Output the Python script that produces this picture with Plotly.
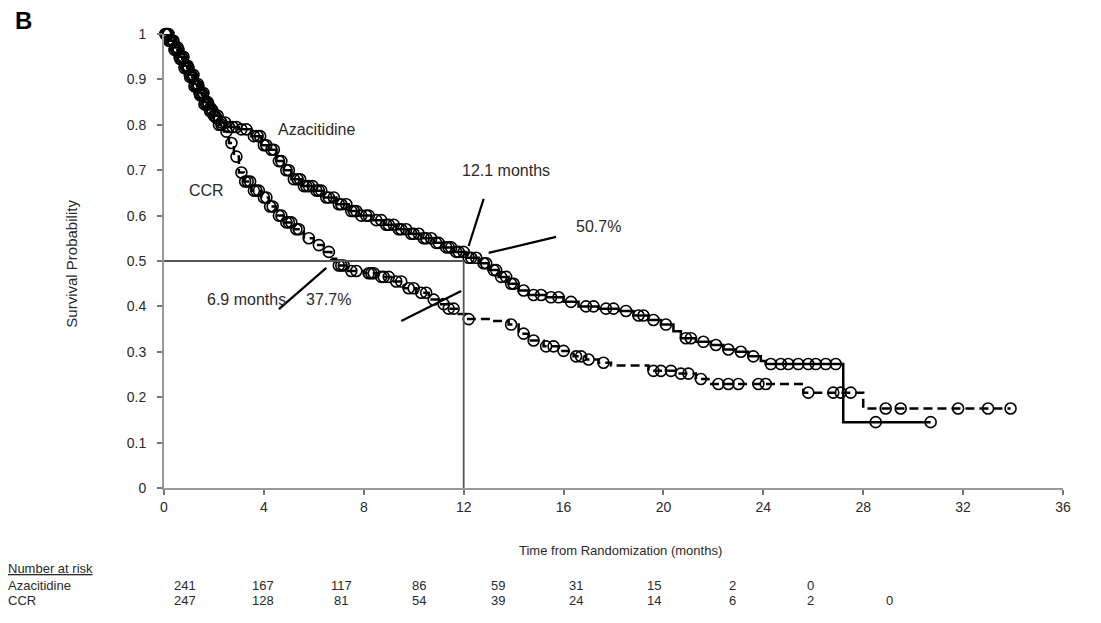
import plotly.graph_objects as go

# ---------------- data ----------------
aza_time = [0, 0.2, 0.4, 0.6, 0.8, 1.0, 1.2, 1.4, 1.6, 1.8, 2.0, 2.2, 2.5, 3.0, 3.5, 3.9,
            4.2, 4.5, 4.8, 5.1, 5.5, 6.0, 6.4, 6.9, 7.4, 7.8, 8.3, 8.8, 9.3, 9.8, 10.3,
            10.8, 11.2, 11.6, 12.1, 12.6, 13.0, 13.4, 13.8, 14.2, 14.6, 15.3, 16.0, 16.6,
            17.4, 18.2, 18.8, 19.4, 19.9, 20.4, 20.7, 21.3, 21.9, 22.4, 22.9, 23.4, 23.9,
            24.1, 27.2, 30.7]
aza_surv = [1.0, 0.985, 0.97, 0.95, 0.93, 0.91, 0.89, 0.87, 0.85, 0.835, 0.82, 0.805, 0.795,
            0.79, 0.775, 0.755, 0.745, 0.72, 0.70, 0.68, 0.665, 0.655, 0.64, 0.625, 0.61,
            0.60, 0.59, 0.58, 0.57, 0.56, 0.55, 0.54, 0.53, 0.52, 0.507, 0.495, 0.48, 0.465,
            0.45, 0.435, 0.425, 0.42, 0.41, 0.40, 0.395, 0.39, 0.38, 0.37, 0.36, 0.345, 0.33,
            0.322, 0.315, 0.305, 0.30, 0.29, 0.28, 0.273, 0.145, 0.145]

ccr_time = [0, 0.2, 0.4, 0.6, 0.8, 1.0, 1.2, 1.4, 1.6, 1.8, 2.0, 2.2, 2.4, 2.6, 2.8, 3.0,
            3.2, 3.5, 3.9, 4.2, 4.5, 4.8, 5.2, 5.6, 6.0, 6.4, 6.7, 6.9, 7.3, 8.0, 8.6, 9.1,
            9.6, 10.1, 10.6, 11.0, 11.4, 11.8, 12.1, 13.0, 13.8, 14.2, 14.6, 15.2, 15.8,
            16.4, 16.9, 17.4, 17.9, 19.4, 20.5, 21.3, 21.8, 25.6, 28.0, 33.9]
ccr_surv = [1.0, 0.985, 0.965, 0.945, 0.925, 0.905, 0.885, 0.865, 0.845, 0.83, 0.815, 0.80,
            0.785, 0.76, 0.73, 0.695, 0.675, 0.655, 0.64, 0.62, 0.60, 0.585, 0.57, 0.55,
            0.535, 0.52, 0.505, 0.49, 0.478, 0.473, 0.465, 0.455, 0.44, 0.43, 0.415, 0.405,
            0.395, 0.383, 0.372, 0.368, 0.36, 0.34, 0.325, 0.312, 0.302, 0.29, 0.283, 0.276,
            0.27, 0.258, 0.252, 0.24, 0.229, 0.21, 0.175, 0.175]

aza_censor = [0.05, 0.12, 0.2, 0.3, 0.38, 0.45, 0.55, 0.62, 0.7, 0.78, 0.85, 0.95, 1.03, 1.1,
              1.18, 1.25, 1.35, 1.42, 1.5, 1.58, 1.65, 1.75, 1.82, 1.9, 2.0, 2.05, 2.15, 2.3,
              2.45, 2.6, 2.75, 2.9, 3.1, 3.3, 3.6, 3.75, 3.85, 4.0, 4.1, 4.3, 4.4, 4.6, 4.7,
              4.9, 5.0, 5.2, 5.35, 5.45, 5.6, 5.7, 5.8, 5.95, 6.1, 6.2, 6.3, 6.5, 6.6, 6.8,
              7.0, 7.1, 7.3, 7.5, 7.6, 7.7, 7.9, 8.1, 8.2, 8.5, 8.7, 8.9, 9.0, 9.2, 9.4, 9.5,
              9.7, 9.9, 10.0, 10.2, 10.4, 10.5, 10.7, 10.9, 11.0, 11.3, 11.4, 11.5, 11.7,
              11.8, 12.0, 12.2, 12.3, 12.5, 12.8, 12.9, 13.2, 13.3, 13.5, 13.7, 13.9, 14.0,
              14.4, 14.8, 15.1, 15.5, 15.8, 16.3, 16.9, 17.2, 17.7, 18.0, 18.5, 19.0, 19.2,
              19.6, 20.1, 20.9, 21.1, 21.6, 22.1, 22.6, 23.1, 23.6, 24.3, 24.7, 25.0, 25.4,
              25.8, 26.1, 26.5, 26.9, 28.5, 30.7]
ccr_censor = [0.1, 0.18, 0.25, 0.35, 0.42, 0.5, 0.58, 0.65, 0.75, 0.82, 0.9, 0.98, 1.05,
              1.15, 1.22, 1.3, 1.38, 1.45, 1.55, 1.62, 1.7, 1.78, 1.85, 1.95, 2.1, 2.2, 2.3,
              2.5, 2.7, 2.9, 3.1, 3.25, 3.35, 3.45, 3.6, 3.7, 3.8, 4.0, 4.1, 4.25, 4.35, 4.6,
              4.7, 4.9, 5.0, 5.1, 5.3, 5.4, 5.8, 6.2, 6.6, 7.0, 7.1, 7.2, 7.5, 7.7, 8.2, 8.3,
              8.4, 8.7, 8.8, 9.0, 9.3, 9.5, 9.8, 10.0, 10.3, 10.5, 10.8, 11.2, 11.4, 11.6,
              12.2, 13.9, 14.4, 14.8, 15.3, 15.6, 16.0, 16.5, 16.7, 17.0, 17.6, 19.6, 19.9,
              20.3, 20.7, 21.0, 21.5, 22.2, 22.6, 23.0, 23.8, 24.1, 25.8, 26.8, 27.1, 27.5,
              28.9, 29.5, 31.8, 33.0, 33.9]

risk_times = [0, 4, 8, 12, 16, 20, 24, 28, 32, 36]
risk_aza = ["241", "167", "117", "86", "59", "31", "15", "2", "0", ""]
risk_ccr = ["247", "128", "81", "54", "39", "24", "14", "6", "2", "0"]

median_aza = 12.0
median_level = 0.5

x_ticks = [0, 4, 8, 12, 16, 20, 24, 28, 32, 36]
y_ticks = [0, 0.1, 0.2, 0.3, 0.4, 0.5, 0.6, 0.7, 0.8, 0.9, 1.0]
y_ticktext = ["0", "0.1", "0.2", "0.3", "0.4", "0.5", "0.6", "0.7", "0.8", "0.9", "1"]


def surv_at(times, surv, t):
    s = surv[0]
    for ti, si in zip(times, surv):
        if ti <= t:
            s = si
        else:
            break
    return s


FONT = "Liberation Sans, Arial, sans-serif"
TXT = "#2a2a2a"

fig = go.Figure()

fig.add_trace(go.Scatter(x=aza_time, y=aza_surv, mode="lines", line_shape="hv",
                         line=dict(color="black", width=2.5), name="Azacitidine",
                         showlegend=False, cliponaxis=False))
fig.add_trace(go.Scatter(x=ccr_time, y=ccr_surv, mode="lines", line_shape="hv",
                         line=dict(color="black", width=2.5, dash="9px,5px"), name="CCR",
                         showlegend=False, cliponaxis=False))

fig.add_trace(go.Scatter(x=aza_censor, y=[surv_at(aza_time, aza_surv, t) for t in aza_censor],
                         mode="markers", showlegend=False, cliponaxis=False,
                         marker=dict(symbol="circle-open", size=11, color="black",
                                     line=dict(width=1.6, color="black"))))
fig.add_trace(go.Scatter(x=ccr_censor, y=[surv_at(ccr_time, ccr_surv, t) for t in ccr_censor],
                         mode="markers", showlegend=False, cliponaxis=False,
                         marker=dict(symbol="circle-open", size=11, color="black",
                                     line=dict(width=1.6, color="black"))))

# median reference lines
fig.add_shape(type="line", xref="x", yref="y", x0=0, x1=median_aza, y0=median_level,
              y1=median_level, line=dict(color="#555555", width=1.8))
fig.add_shape(type="line", xref="x", yref="y", x0=median_aza, x1=median_aza, y0=0,
              y1=median_level, line=dict(color="#555555", width=1.8))

# pointer lines
pointers = [((12.8, 0.637), (12.2, 0.533)),
            ((15.7, 0.553), (13.0, 0.518)),
            ((4.6, 0.394), (6.5, 0.485)),
            ((9.5, 0.368), (11.9, 0.434))]
for (xa, ya), (xb, yb) in pointers:
    fig.add_shape(type="line", xref="x", yref="y", x0=xa, y0=ya, x1=xb, y1=yb,
                  line=dict(color="black", width=2.2))

labels = [("Azacitidine", 6.1, 0.79), ("CCR", 1.7, 0.655), ("12.1 months", 13.7, 0.70),
          ("50.7%", 17.4, 0.575), ("6.9 months", 3.3, 0.416), ("37.7%", 6.6, 0.416)]
for txt, x, y in labels:
    fig.add_annotation(x=x, y=y, xref="x", yref="y", text=txt, showarrow=False,
                       font=dict(family=FONT, size=16, color=TXT))

# panel letter
fig.add_annotation(x=-0.168, y=1.03, xref="paper", yref="paper", text="<b>B</b>",
                   showarrow=False, xanchor="left", yanchor="middle",
                   font=dict(family=FONT, size=24, color="black"))

# axis titles
fig.add_annotation(x=-0.103, y=0.495, xref="paper", yref="paper", text="Survival Probability",
                   textangle=-90, showarrow=False, xanchor="center", yanchor="middle",
                   font=dict(family=FONT, size=15, color=TXT))
fig.add_annotation(x=0.508, y=-0.137, xref="paper", yref="paper",
                   text="Time from Randomization (months)", showarrow=False,
                   xanchor="center", yanchor="middle",
                   font=dict(family=FONT, size=13, color=TXT))

# number at risk table
row_y = [-0.178, -0.214, -0.247]
fig.add_annotation(x=-0.176, y=row_y[0], xref="paper", yref="paper", text="<u>Number at risk</u>",
                   showarrow=False, xanchor="left", yanchor="middle",
                   font=dict(family=FONT, size=13, color=TXT))
fig.add_annotation(x=-0.176, y=row_y[1], xref="paper", yref="paper", text="Azacitidine",
                   showarrow=False, xanchor="left", yanchor="middle",
                   font=dict(family=FONT, size=13, color=TXT))
fig.add_annotation(x=-0.176, y=row_y[2], xref="paper", yref="paper", text="CCR",
                   showarrow=False, xanchor="left", yanchor="middle",
                   font=dict(family=FONT, size=13, color=TXT))
col_step = 78.3 / 899.0
col0 = 20.5 / 899.0
for i, t in enumerate(risk_times):
    px = col0 + i * col_step
    if risk_aza[i]:
        fig.add_annotation(x=px, y=row_y[1], xref="paper", yref="paper", text=risk_aza[i],
                           showarrow=False, xanchor="center", yanchor="middle",
                           font=dict(family=FONT, size=13, color=TXT))
    fig.add_annotation(x=px, y=row_y[2], xref="paper", yref="paper", text=risk_ccr[i],
                       showarrow=False, xanchor="center", yanchor="middle",
                       font=dict(family=FONT, size=13, color=TXT))

fig.update_layout(
    width=1101, height=623,
    margin=dict(l=156, r=46, t=26, b=143),
    paper_bgcolor="white", plot_bgcolor="white",
    xaxis=dict(range=[0, 36], tickvals=x_ticks, showgrid=False, zeroline=False,
               showline=True, linecolor="#999999", linewidth=2, ticks="outside",
               ticklen=5, tickcolor="#777777", tickwidth=2,
               tickfont=dict(family=FONT, size=14, color=TXT)),
    yaxis=dict(range=[0, 1], tickvals=y_ticks, ticktext=y_ticktext, showgrid=False,
               zeroline=False, showline=True, linecolor="#999999", linewidth=2,
               ticks="outside", ticklen=5, tickcolor="#777777", tickwidth=2,
               ticklabelstandoff=8,
               tickfont=dict(family=FONT, size=14, color=TXT)),
)

fig.write_html("out.html")
